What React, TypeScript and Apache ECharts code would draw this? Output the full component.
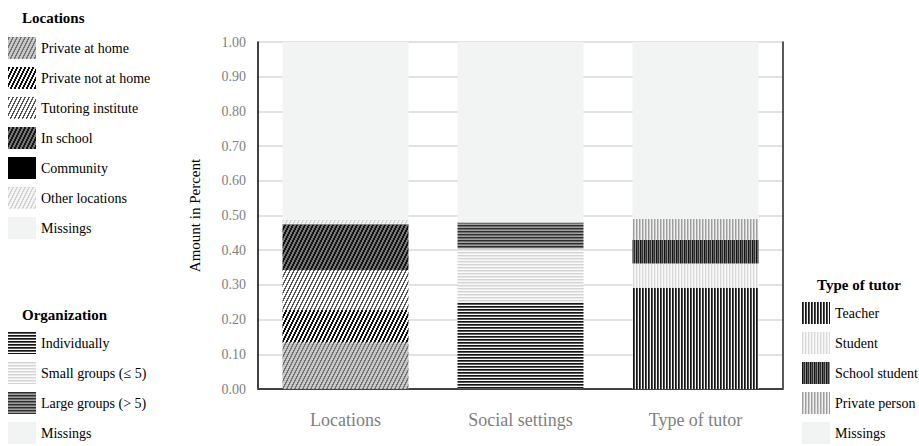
import React, { useEffect, useRef } from 'react';
import * as echarts from 'echarts';

const categories = ['Locations', 'Social settings', 'Type of tutor'];

const locationNames = ['Private at home', 'Private not at home', 'Tutoring institute', 'In school', 'Community', 'Other locations', 'Missings'];
const locationValues = [0.133, 0.095, 0.115, 0.130, 0.002, 0.013, 0.512];

const organizationNames = ['Individually', 'Small groups (≤ 5)', 'Large groups (> 5)', 'Missings'];
const organizationValues = [0.249, 0.156, 0.075, 0.520];

const tutorNames = ['Teacher', 'Student', 'School student', 'Private person', 'Missings'];
const tutorValues = [0.292, 0.070, 0.068, 0.060, 0.510];

const FONT = "'Liberation Serif', 'Times New Roman', serif";

function hexToRgb(h: string) {
  const v = parseInt(h.slice(1), 16);
  return [(v >> 16) & 255, (v >> 8) & 255, v & 255];
}

function makePattern(w: number, h: number, fn: (x: number, y: number) => string) {
  const c = document.createElement('canvas');
  c.width = w;
  c.height = h;
  const ctx = c.getContext('2d')!;
  const img = ctx.createImageData(w, h);
  for (let y = 0; y < h; y++) {
    for (let x = 0; x < w; x++) {
      const [r, g, b] = hexToRgb(fn(x, y));
      const i = (y * w + x) * 4;
      img.data[i] = r;
      img.data[i + 1] = g;
      img.data[i + 2] = b;
      img.data[i + 3] = 255;
    }
  }
  ctx.putImageData(img, 0, 0);
  return { image: c.toDataURL(), repeat: 'repeat', imageWidth: w, imageHeight: h } as any;
}

const diag = (bg: string, line: string, width: number) =>
  makePattern(4, 8, (x, y) => (((2 * x + y) % 8) < width ? line : bg));
const horiz = (cols: string[]) => makePattern(4, cols.length, (_x, y) => cols[y]);
const vert = (cols: string[]) => makePattern(cols.length, 4, (x) => cols[x]);

const MISSING = '#f2f3f3';

export default function App() {
  const ref = useRef<HTMLDivElement>(null);
  useEffect(() => {
    if (!ref.current) return;
    const chart = echarts.init(ref.current, undefined, { renderer: 'svg' });

    const locPatterns = [
      diag('#c8c8c8', '#737373', 3),
      diag('#f4f4f4', '#111111', 4),
      diag('#ffffff', '#555555', 3),
      diag('#777777', '#141414', 4),
      '#000000',
      diag('#f4f4f4', '#d2d2d2', 3),
      MISSING,
    ];
    const orgPatterns = [
      horiz(['#141414', '#5a5a5a', '#f6f6f6']),
      horiz(['#d4d4d4', '#e9e9e9', '#fafafa']),
      horiz(['#2e2e2e', '#6e6e6e', '#a0a0a0']),
      MISSING,
    ];
    const tutPatterns = [
      vert(['#141414', '#505050', '#f6f6f6']),
      vert(['#d8d8d8', '#eeeeee', '#fafafa']),
      vert(['#141414', '#5e5e5e', '#2e2e2e', '#8e8e8e']),
      vert(['#9e9e9e', '#cacaca', '#f0f0f0']),
      MISSING,
    ];

    const mk = (names: string[], values: number[], pats: any[], ci: number) =>
      names.map((n, i) => ({
        type: 'bar',
        name: n,
        stack: 'total',
        barWidth: '72%',
        xAxisIndex: 0,
        yAxisIndex: 0,
        data: categories.map((_c, k) => (k === ci ? values[i] : '-')),
        itemStyle: { color: pats[i] },
        emphasis: { disabled: true },
      }));

    const legendBase = {
      orient: 'vertical',
      padding: 0,
      itemWidth: 28,
      itemHeight: 22,
      itemGap: 8,
      icon: 'rect',
      selectedMode: false,
      textStyle: { fontFamily: FONT, fontSize: 14, color: '#000' },
    };

    const titleStyle = (text: string, x: number, y: number) => ({
      type: 'text',
      x,
      y,
      style: { text, fontFamily: FONT, fontSize: 15, fontWeight: 'bold', fill: '#000', verticalAlign: 'middle', align: 'left' },
    });

    chart.setOption({
      animation: false,
      textStyle: { fontFamily: FONT },
      grid: { left: 258, right: 136, top: 42, bottom: 57 },
      xAxis: [
        {
          type: 'category',
          data: categories,
          axisLine: { lineStyle: { color: '#a6a6a6', width: 2 } },
          axisTick: { show: false },
          axisLabel: { color: '#808080', fontSize: 18, fontFamily: FONT, margin: 22 },
        },
        {
          type: 'category',
          position: 'top',
          data: categories,
          axisLine: { lineStyle: { color: '#222', width: 1.5 } },
          axisTick: { show: false },
          axisLabel: { show: false },
        },
      ],
      yAxis: [
        {
          type: 'value',
          min: 0,
          max: 1,
          interval: 0.1,
          name: 'Amount in Percent',
          nameLocation: 'middle',
          nameGap: 56,
          nameTextStyle: { color: '#000', fontSize: 15, fontFamily: FONT },
          axisLine: { show: true, lineStyle: { color: '#000', width: 1.5 } },
          axisTick: { show: false },
          axisLabel: { color: '#808080', fontSize: 14, fontFamily: FONT, margin: 12, formatter: (v: number) => v.toFixed(2) },
          splitLine: { lineStyle: { color: '#d9d9d9', width: 1.5 } },
        },
        {
          type: 'value',
          position: 'right',
          min: 0,
          max: 1,
          axisLine: { show: true, lineStyle: { color: '#222', width: 1.5 } },
          axisTick: { show: false },
          axisLabel: { show: false },
          splitLine: { show: false },
        },
      ],
      legend: [
        { ...legendBase, left: 8, top: 37, data: locationNames },
        { ...legendBase, left: 8, top: 332, data: organizationNames },
        { ...legendBase, left: 802, top: 302, data: tutorNames },
      ],
      graphic: [
        titleStyle('Locations', 22, 18),
        titleStyle('Organization', 22, 315),
        titleStyle('Type of tutor', 817, 285),
      ],
      series: [
        ...mk(locationNames, locationValues, locPatterns, 0),
        ...mk(organizationNames, organizationValues, orgPatterns, 1),
        ...mk(tutorNames, tutorValues, tutPatterns, 2),
      ],
    } as any);

    return () => chart.dispose();
  }, []);

  return <div ref={ref} style={{ width: 919, height: 446, position: 'absolute', left: 0, top: 0 }} />;
}
